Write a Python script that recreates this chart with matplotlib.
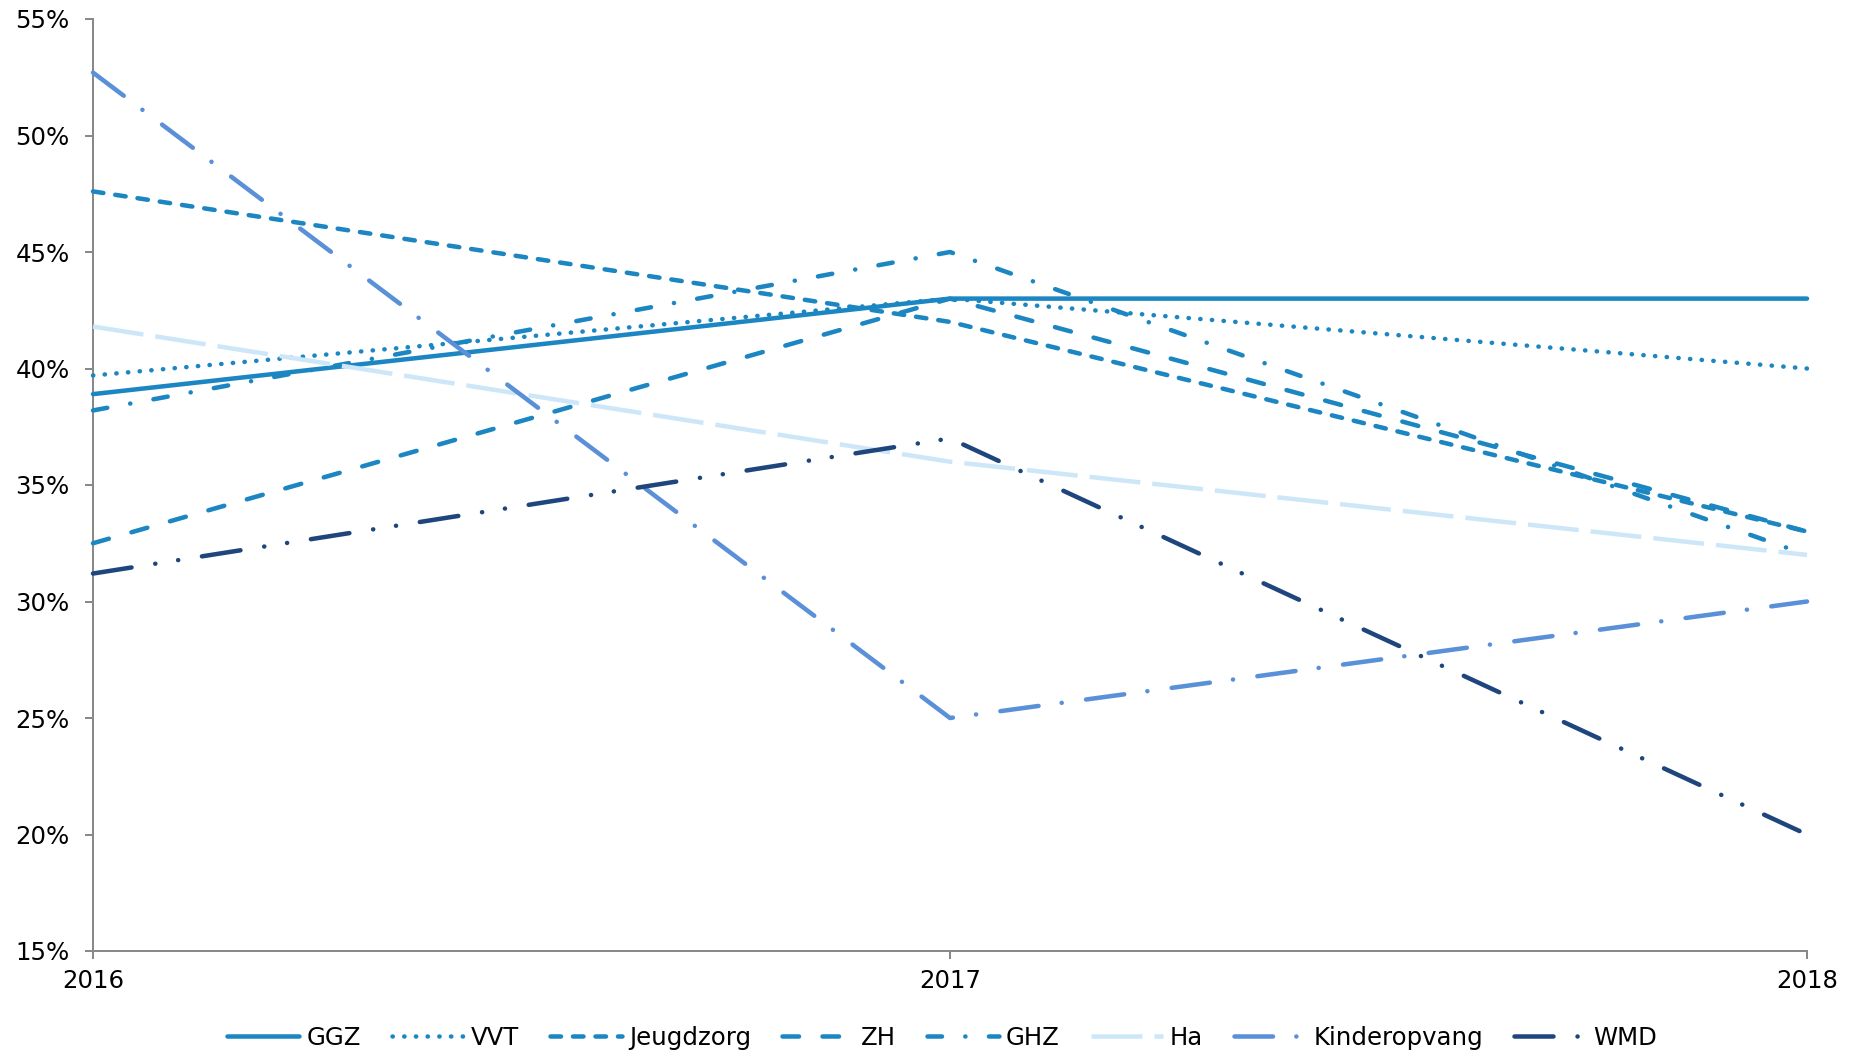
import matplotlib
matplotlib.use("Agg")
import matplotlib.pyplot as plt
from matplotlib.ticker import FuncFormatter

years = [2016, 2017, 2018]
series_names = ["GGZ", "VVT", "Jeugdzorg", "ZH", "GHZ", "Ha", "Kinderopvang", "WMD"]
ggz = [38.9, 43.0, 43.0]
vvt = [39.7, 43.0, 40.0]
jeugdzorg = [47.6, 42.0, 33.0]
zh = [32.5, 43.0, 33.0]
ghz = [38.2, 45.0, 32.0]
ha = [41.8, 36.0, 32.0]
kinderopvang = [52.7, 25.0, 30.0]
wmd = [31.2, 37.0, 20.0]
y_ticks = [15, 20, 25, 30, 35, 40, 45, 50, 55]

plt.rcParams['lines.scale_dashes'] = False
plt.rcParams['font.family'] = ['DejaVu Sans']

DPI = 100
FS = 17.6
fig = plt.figure(figsize=(18.61, 10.54), dpi=DPI)
ax = fig.add_axes([93/1861, 1 - 951/1054, (1807-93)/1861, (951-19)/1054])

P = 0.72  # px -> pt
lw = 4.5 * P
blue = "#1B86C1"
styles = [
    dict(color=blue, ls='-'),
    dict(color=blue, ls=(0, (0.3*P, 11.4*P))),
    dict(color=blue, ls=(0, (10.5*P, 12*P))),
    dict(color=blue, ls=(0, (16.5*P, 23.5*P))),
    dict(color=blue, ls=(0, (14.5*P, 23.3*P, 0.1, 23.5*P))),
    dict(color="#CDE7F8", ls=(0, (51*P, 12*P)), cap='butt'),
    dict(color="#5A90D8", ls=(0, (38.5*P, 23.3*P, 0.1, 24.5*P))),
    dict(color="#1E467D", ls=(0, (39*P, 24*P, 0.1, 23*P, 0.1, 24*P))),
]
data = [ggz, vvt, jeugdzorg, zh, ghz, ha, kinderopvang, wmd]

for name, vals, st in zip(series_names, data, styles):
    cap = st.get('cap', 'round')
    ax.plot(years, vals, color=st['color'], linestyle=st['ls'], lw=lw,
            dash_capstyle=cap, solid_capstyle='butt' if name != "GGZ" else 'round',
            label=name, clip_on=False, zorder=3)

ax.set_xlim(2016, 2018)
ax.set_ylim(15, 55)
ax.set_xticks(years)
ax.set_xticklabels([str(y) for y in years])
ax.set_yticks(y_ticks)
ax.yaxis.set_major_formatter(FuncFormatter(lambda v, p: f"{int(v)}%"))

for s in ['top', 'right']:
    ax.spines[s].set_visible(False)
for s in ['left', 'bottom']:
    ax.spines[s].set_color('#898989')
    ax.spines[s].set_linewidth(2*P)
ax.tick_params(axis='both', colors='#898989', labelcolor='black', length=8*P,
               width=2*P, labelsize=FS, direction='out')
ax.tick_params(axis='y', pad=11)
ax.tick_params(axis='x', pad=7)

leg = fig.legend(loc='center', bbox_to_anchor=(942/1861, 1 - 1038/1054), ncol=8,
                 frameon=False, fontsize=FS, handlelength=2.95, handletextpad=0.28,
                 columnspacing=1.27, borderaxespad=0)

fig.savefig("out.png", dpi=DPI, facecolor='white')
